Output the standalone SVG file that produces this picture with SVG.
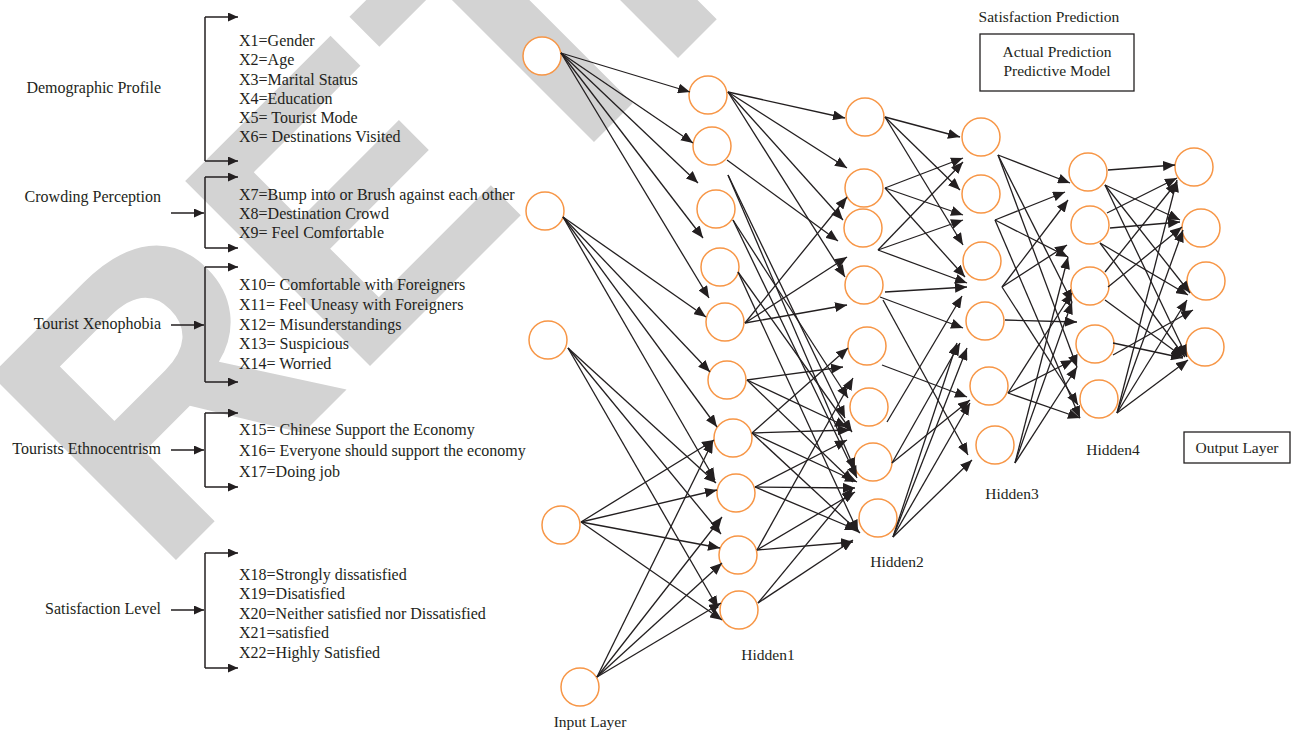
<svg xmlns="http://www.w3.org/2000/svg" width="1295" height="733" viewBox="0 0 1295 733">
<defs>
<style>
.t{font-family:"Liberation Serif","Times New Roman",serif;font-size:16px;fill:#231f20}
.lb{font-family:"Liberation Serif","Times New Roman",serif;font-size:15.5px;fill:#231f20}
.n{fill:#fff;stroke:#f79646;stroke-width:1.5}
.e{stroke:#231f20;stroke-width:1.3;fill:none;marker-end:url(#ah)}
.b{stroke:#231f20;stroke-width:1.5;fill:none}
.ba{stroke:#231f20;stroke-width:1.5;fill:none;marker-end:url(#ah2)}
.box{fill:#fff;stroke:#231f20;stroke-width:1.3}
.wm{font-family:"Liberation Sans",Arial,sans-serif;font-weight:bold;font-size:380px;fill:#d3d3d3}
</style>
<marker id="ah" markerUnits="userSpaceOnUse" markerWidth="12" markerHeight="10" refX="12" refY="5" orient="auto"><path d="M0,0 L12,5 L0,10 z" fill="#231f20"/></marker>
<marker id="ah2" markerUnits="userSpaceOnUse" markerWidth="10" markerHeight="9" refX="10" refY="4.5" orient="auto"><path d="M0,0 L10,4.5 L0,9 z" fill="#231f20"/></marker>
</defs>
<rect width="1295" height="733" fill="#fff"/>
<text class="wm" transform="translate(158,578) rotate(-45)">RET<tspan dx="-50">RACTED</tspan></text>

<g id="left-panel">
<g id="demographic">
<text class="t" x="161" y="93" text-anchor="end">Demographic Profile</text>
<path class="b" d="M205,17 V161"/>
<path class="ba" d="M205,17 H238"/>
<path class="ba" d="M205,161 H238"/>
<text class="t" x="239" y="46">X1=Gender</text>
<text class="t" x="239" y="65">X2=Age</text>
<text class="t" x="239" y="85">X3=Marital Status</text>
<text class="t" x="239" y="104">X4=Education</text>
<text class="t" x="239" y="123">X5= Tourist Mode</text>
<text class="t" x="239" y="142">X6= Destinations Visited</text>
</g>
<g id="crowding">
<text class="t" x="161" y="202" text-anchor="end">Crowding Perception</text>
<path class="ba" d="M171,213 H204"/>
<path class="b" d="M205,177 V248"/>
<path class="ba" d="M205,177 H238"/>
<path class="ba" d="M205,248 H238"/>
<text class="t" x="239" y="200">X7=Bump into or Brush against each other</text>
<text class="t" x="239" y="219">X8=Destination Crowd</text>
<text class="t" x="239" y="238">X9= Feel Comfortable</text>
</g>
<g id="xenophobia">
<text class="t" x="161" y="329" text-anchor="end">Tourist Xenophobia</text>
<path class="ba" d="M171,325 H204"/>
<path class="b" d="M205,267 V382"/>
<path class="ba" d="M205,267 H238"/>
<path class="ba" d="M205,382 H238"/>
<text class="t" x="239" y="290">X10= Comfortable with Foreigners</text>
<text class="t" x="239" y="310">X11= Feel Uneasy with Foreigners</text>
<text class="t" x="239" y="330">X12= Misunderstandings</text>
<text class="t" x="239" y="349">X13= Suspicious</text>
<text class="t" x="239" y="369">X14= Worried</text>
</g>
<g id="ethnocentrism">
<text class="t" x="161" y="454" text-anchor="end">Tourists Ethnocentrism</text>
<path class="ba" d="M171,450 H204"/>
<path class="b" d="M205,413 V487"/>
<path class="ba" d="M205,413 H238"/>
<path class="ba" d="M205,487 H238"/>
<text class="t" x="239" y="435">X15= Chinese Support the Economy</text>
<text class="t" x="239" y="456">X16= Everyone should support the economy</text>
<text class="t" x="239" y="477">X17=Doing job</text>
</g>
<g id="satisfaction">
<text class="t" x="161" y="614" text-anchor="end">Satisfaction Level</text>
<path class="ba" d="M171,610 H204"/>
<path class="b" d="M205,553 V668"/>
<path class="ba" d="M205,553 H238"/>
<path class="ba" d="M205,668 H238"/>
<text class="t" x="239" y="580">X18=Strongly dissatisfied</text>
<text class="t" x="239" y="599">X19=Disatisfied</text>
<text class="t" x="239" y="619">X20=Neither satisfied nor Dissatisfied</text>
<text class="t" x="239" y="638">X21=satisfied</text>
<text class="t" x="239" y="658">X22=Highly Satisfied</text>
</g>
</g>

<g id="nodes">
<g id="input-layer">
<circle class="n" cx="542" cy="56" r="19"/>
<circle class="n" cx="545" cy="211" r="19"/>
<circle class="n" cx="548" cy="340" r="19"/>
<circle class="n" cx="561" cy="525" r="19"/>
<circle class="n" cx="580" cy="687" r="19"/>
<text class="lb" x="590" y="727" text-anchor="middle">Input Layer</text>
</g>
<g id="hidden1">
<circle class="n" cx="708" cy="95" r="19"/>
<circle class="n" cx="712" cy="146" r="19"/>
<circle class="n" cx="716" cy="209" r="19"/>
<circle class="n" cx="720" cy="267" r="19"/>
<circle class="n" cx="725" cy="322" r="19"/>
<circle class="n" cx="727" cy="380" r="19"/>
<circle class="n" cx="733" cy="438" r="19"/>
<circle class="n" cx="736" cy="493" r="19"/>
<circle class="n" cx="738" cy="555" r="19"/>
<circle class="n" cx="739" cy="610" r="19"/>
<text class="lb" x="768" y="660" text-anchor="middle">Hidden1</text>
</g>
<g id="hidden2">
<circle class="n" cx="865" cy="117" r="19"/>
<circle class="n" cx="864" cy="188" r="19"/>
<circle class="n" cx="863" cy="228" r="19"/>
<circle class="n" cx="864" cy="285" r="19"/>
<circle class="n" cx="867" cy="346" r="19"/>
<circle class="n" cx="869" cy="407" r="19"/>
<circle class="n" cx="873" cy="462" r="19"/>
<circle class="n" cx="878" cy="518" r="19"/>
<text class="lb" x="897" y="567" text-anchor="middle">Hidden2</text>
</g>
<g id="hidden3">
<circle class="n" cx="981" cy="137" r="19"/>
<circle class="n" cx="981" cy="194" r="19"/>
<circle class="n" cx="982" cy="261" r="19"/>
<circle class="n" cx="985" cy="321" r="19"/>
<circle class="n" cx="989" cy="386" r="19"/>
<circle class="n" cx="995" cy="445" r="19"/>
<text class="lb" x="1012" y="499" text-anchor="middle">Hidden3</text>
</g>
<g id="hidden4">
<circle class="n" cx="1088" cy="172" r="19"/>
<circle class="n" cx="1090" cy="225" r="19"/>
<circle class="n" cx="1090" cy="286" r="19"/>
<circle class="n" cx="1095" cy="344" r="19"/>
<circle class="n" cx="1099" cy="399" r="19"/>
<text class="lb" x="1113" y="455" text-anchor="middle">Hidden4</text>
</g>
<g id="output-layer">
<circle class="n" cx="1194" cy="167" r="19"/>
<circle class="n" cx="1201" cy="228" r="19"/>
<circle class="n" cx="1206" cy="281" r="19"/>
<circle class="n" cx="1205" cy="347" r="19"/>
</g>
<g id="satisfaction-prediction">
<text class="lb" x="1049" y="22" text-anchor="middle">Satisfaction Prediction</text>
<rect class="box" x="980" y="34" width="154" height="57"/>
<text class="lb" x="1057" y="57" text-anchor="middle">Actual Prediction</text>
<text class="lb" x="1057" y="76" text-anchor="middle">Predictive Model</text>
</g>
<g id="output-layer-label">
<rect class="box" x="1184" y="432" width="106" height="31"/>
<text class="lb" x="1237" y="453" text-anchor="middle">Output Layer</text>
</g>
</g>

<g id="connectors">
<path class="e" d="M561,53 L690,92"/>
<path class="e" d="M561,53 L693,143"/>
<path class="e" d="M561,53 L698,183"/>
<path class="e" d="M561,53 L703,238"/>
<path class="e" d="M561,53 L709,298"/>
<path class="e" d="M563,217 L706,317"/>
<path class="e" d="M563,217 L710,372"/>
<path class="e" d="M563,217 L717,427"/>
<path class="e" d="M563,217 L715,480"/>
<path class="e" d="M568,348 L716,483"/>
<path class="e" d="M568,348 L721,534"/>
<path class="e" d="M568,348 L718,608"/>
<path class="e" d="M581,522 L714,440"/>
<path class="e" d="M581,522 L717,490"/>
<path class="e" d="M581,522 L720,548"/>
<path class="e" d="M581,522 L722,620"/>
<path class="e" d="M597,677 L713,441"/>
<path class="e" d="M597,677 L722,517"/>
<path class="e" d="M597,677 L722,563"/>
<path class="e" d="M597,677 L721,603"/>

<path class="e" d="M728,92 L845,118"/>
<path class="e" d="M728,92 L847,168"/>
<path class="e" d="M728,92 L843,220"/>
<path class="e" d="M728,92 L845,277"/>
<path class="e" d="M727,160 L838,241"/>
<path class="e" d="M728,175 L845,418"/>
<path class="e" d="M728,175 L855,470"/>
<path class="e" d="M733,220 L848,398"/>
<path class="e" d="M733,220 L857,478"/>
<path class="e" d="M738,272 L852,432"/>
<path class="e" d="M738,272 L858,532"/>
<path class="e" d="M745,323 L847,197"/>
<path class="e" d="M745,323 L847,257"/>
<path class="e" d="M745,323 L847,305"/>
<path class="e" d="M747,380 L843,367"/>
<path class="e" d="M747,380 L847,427"/>
<path class="e" d="M747,380 L853,482"/>
<path class="e" d="M752,433 L848,348"/>
<path class="e" d="M752,433 L850,430"/>
<path class="e" d="M752,433 L857,482"/>
<path class="e" d="M752,433 L860,533"/>
<path class="e" d="M755,487 L847,440"/>
<path class="e" d="M755,487 L855,488"/>
<path class="e" d="M755,487 L857,530"/>
<path class="e" d="M757,550 L853,378"/>
<path class="e" d="M757,550 L855,492"/>
<path class="e" d="M757,550 L853,542"/>
<path class="e" d="M758,603 L853,488"/>
<path class="e" d="M758,603 L853,540"/>

<path class="e" d="M885,117 L960,137"/>
<path class="e" d="M885,117 L960,190"/>
<path class="e" d="M885,117 L963,245"/>
<path class="e" d="M885,188 L963,158"/>
<path class="e" d="M885,188 L963,215"/>
<path class="e" d="M885,188 L965,277"/>
<path class="e" d="M878,250 L963,162"/>
<path class="e" d="M878,250 L963,220"/>
<path class="e" d="M878,250 L967,283"/>
<path class="e" d="M885,292 L967,287"/>
<path class="e" d="M880,297 L963,328"/>
<path class="e" d="M883,300 L968,455"/>
<path class="e" d="M882,365 L967,397"/>
<path class="e" d="M887,422 L962,296"/>
<path class="e" d="M892,463 L960,343"/>
<path class="e" d="M892,463 L970,400"/>
<path class="e" d="M893,537 L957,343"/>
<path class="e" d="M893,537 L967,348"/>
<path class="e" d="M893,537 L970,403"/>
<path class="e" d="M893,537 L972,460"/>

<path class="e" d="M998,155 L1070,183"/>
<path class="e" d="M998,155 L1072,302"/>
<path class="e" d="M998,155 L1077,367"/>
<path class="e" d="M995,220 L1065,192"/>
<path class="e" d="M995,220 L1068,257"/>
<path class="e" d="M995,220 L1080,418"/>
<path class="e" d="M1002,287 L1068,200"/>
<path class="e" d="M1002,287 L1067,245"/>
<path class="e" d="M1002,287 L1078,405"/>
<path class="e" d="M1005,320 L1077,322"/>
<path class="e" d="M1008,393 L1072,293"/>
<path class="e" d="M1008,393 L1073,360"/>
<path class="e" d="M1008,393 L1080,418"/>
<path class="e" d="M1015,463 L1068,257"/>
<path class="e" d="M1015,463 L1072,302"/>
<path class="e" d="M1015,463 L1077,367"/>

<path class="e" d="M1108,170 L1175,165"/>
<path class="e" d="M1105,185 L1180,220"/>
<path class="e" d="M1105,185 L1190,293"/>
<path class="e" d="M1105,185 L1187,357"/>
<path class="e" d="M1107,213 L1177,178"/>
<path class="e" d="M1110,228 L1180,222"/>
<path class="e" d="M1100,243 L1188,295"/>
<path class="e" d="M1100,243 L1185,357"/>
<path class="e" d="M1105,272 L1177,182"/>
<path class="e" d="M1108,287 L1182,227"/>
<path class="e" d="M1105,300 L1183,357"/>
<path class="e" d="M1113,355 L1193,310"/>
<path class="e" d="M1113,343 L1183,358"/>
<path class="e" d="M1117,413 L1183,230"/>
<path class="e" d="M1117,413 L1187,300"/>
<path class="e" d="M1117,413 L1188,360"/>
<path class="e" d="M1117,413 L1177,180"/>
</g>
</svg>
